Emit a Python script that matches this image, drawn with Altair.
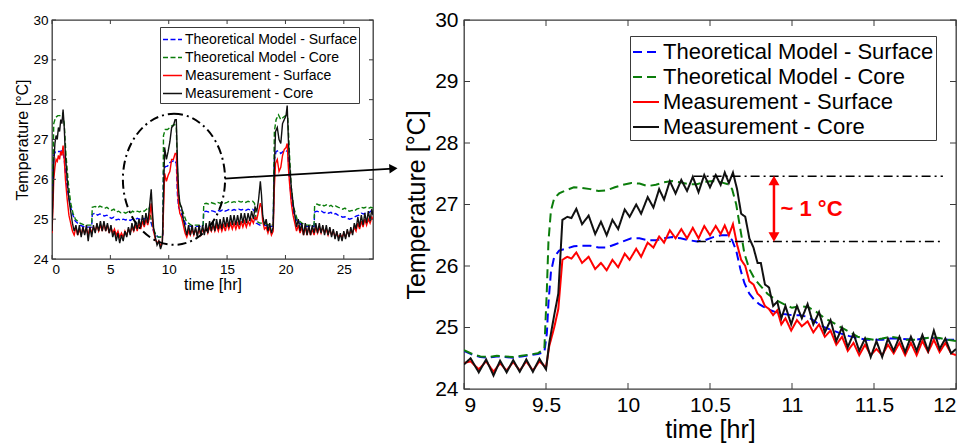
import altair as alt
import pandas as pd

FONT = "Liberation Sans"
FRAME = "#3a3a3a"
SERIES = ["Theoretical Model - Surface", "Theoretical Model - Core",
          "Measurement - Surface", "Measurement - Core"]
COLORS = ["#0000ff", "#0b7d0b", "#ff0000", "#111111"]

# ---------------- right panel (zoom 9-12 hr) ----------------
zt_meas = [
    9.00, 9.04, 9.09, 9.135, 9.18, 9.22, 9.26, 9.30, 9.34, 9.38,
    9.42, 9.46, 9.50, 9.52, 9.55, 9.575, 9.60, 9.63, 9.655, 9.685,
    9.72, 9.76, 9.80, 9.835, 9.87, 9.905, 9.94, 9.98, 10.01, 10.05,
    10.08, 10.12, 10.155, 10.19, 10.22, 10.255, 10.29, 10.325, 10.36, 10.395,
    10.43, 10.465, 10.50, 10.535, 10.565, 10.59, 10.615, 10.64, 10.665, 10.69,
    10.715, 10.74, 10.765, 10.79, 10.81, 10.835, 10.86, 10.885, 10.91, 10.935,
    10.96, 10.995, 11.03, 11.06, 11.095, 11.13, 11.165, 11.20, 11.235, 11.27,
    11.305, 11.34, 11.375, 11.41, 11.445, 11.48, 11.515, 11.55, 11.585, 11.62,
    11.655, 11.69, 11.725, 11.76, 11.795, 11.83, 11.865, 11.90, 11.935, 11.97,
    12.00]
zoom_core_meas = [
    24.40, 24.50, 24.27, 24.48, 24.22, 24.46, 24.27, 24.47, 24.28, 24.48,
    24.28, 24.49, 24.32, 24.75, 25.20, 25.55, 26.75, 26.80, 26.78, 26.93,
    26.68, 26.82, 26.52, 26.72, 26.50, 26.75, 26.60, 26.92, 26.80, 27.00,
    26.85, 27.12, 26.95, 27.25, 27.08, 27.38, 27.18, 27.40, 27.22, 27.45,
    27.20, 27.48, 27.28, 27.48, 27.32, 27.52, 27.35, 27.52, 27.25, 26.85,
    26.80, 26.45, 26.30, 26.05, 26.05, 25.70, 25.65, 25.35, 25.42, 25.15,
    25.35, 25.05, 25.35, 25.15, 25.38, 25.05, 25.25, 24.92, 25.12, 24.78,
    25.00, 24.68, 24.90, 24.62, 24.82, 24.52, 24.78, 24.52, 24.82, 24.62,
    24.85, 24.60, 24.85, 24.62, 24.88, 24.62, 24.95, 24.65, 24.82, 24.58,
    24.65]
zoom_surf_meas = [
    24.42, 24.45, 24.32, 24.45, 24.28, 24.42, 24.30, 24.44, 24.30, 24.45,
    24.30, 24.45, 24.35, 24.70, 25.00, 25.30, 26.10, 26.15, 26.12, 26.22,
    26.05, 26.15, 25.95, 26.05, 25.93, 26.10, 25.98, 26.20, 26.10, 26.28,
    26.15, 26.38, 26.30, 26.48, 26.38, 26.58, 26.45, 26.60, 26.45, 26.62,
    26.45, 26.65, 26.50, 26.65, 26.52, 26.66, 26.50, 26.68, 26.35, 26.10,
    26.00, 25.75, 25.70, 25.55, 25.50, 25.35, 25.30, 25.20, 25.28, 25.05,
    25.15, 24.95, 25.12, 25.02, 25.10, 24.92, 25.05, 24.85, 24.95, 24.72,
    24.85, 24.62, 24.75, 24.55, 24.72, 24.55, 24.65, 24.55, 24.72, 24.58,
    24.75, 24.55, 24.75, 24.55, 24.78, 24.60, 24.80, 24.60, 24.75, 24.58,
    24.55]
zt_model = [
    9.00, 9.05, 9.10, 9.15, 9.20, 9.25, 9.30, 9.35, 9.40, 9.45,
    9.49, 9.505, 9.515, 9.53, 9.55, 9.58, 9.62, 9.67, 9.72, 9.77,
    9.82, 9.87, 9.92, 9.97, 10.02, 10.07, 10.12, 10.17, 10.22, 10.27,
    10.32, 10.37, 10.42, 10.47, 10.52, 10.57, 10.61, 10.635, 10.66, 10.685,
    10.71, 10.74, 10.77, 10.80, 10.85, 10.90, 10.95, 11.00, 11.05, 11.10,
    11.15, 11.20, 11.25, 11.30, 11.35, 11.40, 11.45, 11.50, 11.55, 11.60,
    11.65, 11.70, 11.75, 11.80, 11.85, 11.90, 11.95, 12.00]
zoom_core_model = [
    24.63, 24.57, 24.53, 24.52, 24.54, 24.53, 24.52, 24.54, 24.56, 24.58,
    24.65, 25.60, 26.40, 26.90, 27.10, 27.18, 27.23, 27.28, 27.27, 27.25,
    27.22, 27.23, 27.28, 27.32, 27.35, 27.34, 27.30, 27.32, 27.36, 27.38,
    27.36, 27.33, 27.33, 27.37, 27.38, 27.36, 27.33, 27.25, 27.00, 26.60,
    26.20, 25.95, 25.80, 25.70, 25.55, 25.45, 25.38, 25.32, 25.35, 25.33,
    25.25, 25.15, 25.08, 25.00, 24.93, 24.85, 24.82, 24.80, 24.82, 24.85,
    24.83, 24.80, 24.80, 24.82, 24.84, 24.83, 24.80, 24.78]
zoom_surf_model = [
    24.62, 24.56, 24.52, 24.51, 24.53, 24.52, 24.51, 24.53, 24.55, 24.57,
    24.60, 24.90, 25.40, 25.90, 26.15, 26.25, 26.28, 26.32, 26.33, 26.33,
    26.30, 26.30, 26.35, 26.40, 26.45, 26.45, 26.42, 26.42, 26.45, 26.47,
    26.45, 26.42, 26.40, 26.42, 26.47, 26.50, 26.50, 26.42, 26.25, 25.95,
    25.72, 25.55, 25.45, 25.38, 25.30, 25.25, 25.22, 25.20, 25.20, 25.17,
    25.08, 25.00, 24.95, 24.90, 24.86, 24.83, 24.80, 24.80, 24.80, 24.82,
    24.82, 24.81, 24.80, 24.82, 24.83, 24.82, 24.80, 24.80]

# ---------------- left panel (0-27.5 hr) ----------------
dt_meas = [
    0.00, 0.08, 0.15, 0.25, 0.35, 0.45, 0.55, 0.65, 0.75, 0.85,
    0.95, 1.05, 1.15, 1.30, 1.45, 1.60, 1.75, 1.90, 2.05, 2.20,
    2.35, 2.50, 2.65, 2.80, 2.95, 3.10, 3.25, 3.40, 3.55, 3.70,
    3.85, 4.00, 4.15, 4.30, 4.45, 4.60, 4.75, 4.90, 5.05, 5.20,
    5.35, 5.50, 5.65, 5.80, 5.95, 6.10, 6.25, 6.40, 6.55, 6.70,
    6.85, 7.00, 7.15, 7.30, 7.45, 7.60, 7.75, 7.90, 8.05, 8.20,
    8.35, 8.50, 8.60, 8.70, 8.85, 9.00, 9.15, 9.30, 9.45, 9.55,
    9.65, 9.80, 9.95, 10.10, 10.25, 10.40, 10.55, 10.65, 10.75, 10.85,
    10.95, 11.10, 11.25, 11.40, 11.55, 11.70, 11.85, 12.00, 12.15, 12.30,
    12.45, 12.60, 12.75, 12.90, 13.05, 13.20, 13.35, 13.50, 13.65, 13.80,
    13.95, 14.10, 14.25, 14.40, 14.55, 14.70, 14.85, 15.00, 15.15, 15.30,
    15.45, 15.60, 15.75, 15.90, 16.05, 16.20, 16.35, 16.50, 16.65, 16.80,
    16.95, 17.10, 17.25, 17.40, 17.55, 17.70, 17.85, 17.95, 18.05, 18.20,
    18.35, 18.50, 18.65, 18.80, 18.95, 19.05, 19.15, 19.30, 19.45, 19.60,
    19.75, 19.90, 20.05, 20.15, 20.25, 20.35, 20.50, 20.65, 20.80, 20.95,
    21.10, 21.25, 21.40, 21.55, 21.70, 21.85, 22.00, 22.15, 22.30, 22.45,
    22.60, 22.75, 22.90, 23.05, 23.20, 23.35, 23.50, 23.65, 23.80, 23.95,
    24.10, 24.25, 24.40, 24.55, 24.70, 24.85, 25.00, 25.15, 25.30, 25.45,
    25.60, 25.75, 25.90, 26.05, 26.20, 26.35, 26.50, 26.65, 26.80, 26.95,
    27.10, 27.25, 27.40, 27.50]
day_core_meas = [
    24.70, 25.60, 26.40, 26.90, 27.10, 27.00, 27.30, 27.20, 27.50, 27.40,
    27.75, 27.30, 26.60, 26.00, 25.50, 25.20, 24.90, 24.70, 24.85, 24.60,
    24.85, 24.55, 24.80, 24.60, 24.85, 24.45, 24.80, 24.55, 24.85, 24.65,
    24.90, 24.70, 24.95, 24.70, 24.95, 24.70, 24.90, 24.65, 24.85, 24.55,
    24.70, 24.45, 24.65, 24.40, 24.60, 24.45, 24.70, 24.55, 24.80, 24.60,
    24.90, 24.70, 24.95, 24.75, 25.00, 24.80, 25.10, 24.85, 25.15, 24.90,
    25.30, 25.75, 25.20, 24.80, 24.55, 24.35, 24.45, 24.25, 24.40, 25.50,
    26.80, 26.50, 26.70, 26.95, 27.30, 27.35, 27.50, 27.50, 26.40, 25.70,
    25.40, 25.30, 25.00, 24.80, 24.60, 24.85, 24.60, 24.85, 24.60, 24.80,
    24.55, 24.85, 24.60, 24.85, 24.60, 24.90, 24.65, 24.95, 24.70, 24.95,
    24.70, 25.00, 24.75, 25.00, 24.75, 25.05, 24.80, 25.05, 24.80, 25.10,
    24.85, 25.10, 24.85, 25.10, 24.85, 25.15, 24.90, 25.15, 24.90, 25.15,
    24.95, 25.20, 25.00, 25.30, 25.20, 25.50, 25.95, 25.60, 25.10, 24.85,
    25.00, 24.70, 24.90, 24.65, 24.80, 26.30, 27.20, 27.30, 27.00, 26.90,
    27.40, 27.50, 27.60, 27.85, 27.00, 26.40, 25.80, 25.40, 25.10, 24.80,
    25.00, 24.70, 24.90, 24.60, 24.90, 24.60, 24.85, 24.60, 24.85, 24.65,
    24.90, 24.65, 24.90, 24.65, 24.85, 24.60, 24.85, 24.60, 24.80, 24.55,
    24.75, 24.50, 24.70, 24.45, 24.65, 24.45, 24.70, 24.50, 24.75, 24.55,
    24.80, 24.60, 24.90, 24.75, 25.05, 24.80, 25.10, 24.85, 25.15, 24.90,
    25.20, 24.95, 25.25, 25.10]
day_surf_meas = [
    24.65, 25.30, 26.00, 26.30, 26.50, 26.45, 26.60, 26.50, 26.70, 26.60,
    26.85, 26.50, 26.00, 25.50, 25.10, 24.90, 24.70, 24.60, 24.80, 24.60,
    24.75, 24.60, 24.80, 24.65, 24.75, 24.60, 24.80, 24.65, 24.80, 24.70,
    24.85, 24.70, 24.85, 24.70, 24.90, 24.70, 24.85, 24.65, 24.80, 24.65,
    24.75, 24.60, 24.70, 24.55, 24.65, 24.55, 24.70, 24.60, 24.75, 24.65,
    24.80, 24.70, 24.85, 24.70, 24.90, 24.75, 24.95, 24.80, 25.00, 24.85,
    25.05, 25.40, 25.00, 24.70, 24.50, 24.40, 24.45, 24.32, 24.40, 25.20,
    26.15, 25.95, 26.10, 26.20, 26.50, 26.50, 26.65, 26.65, 25.80, 25.35,
    25.15, 25.05, 24.85, 24.65, 24.55, 24.70, 24.60, 24.75, 24.60, 24.75,
    24.60, 24.75, 24.60, 24.75, 24.65, 24.80, 24.65, 24.80, 24.70, 24.85,
    24.70, 24.85, 24.70, 24.85, 24.70, 24.85, 24.70, 24.90, 24.75, 24.90,
    24.75, 24.90, 24.75, 24.90, 24.75, 24.95, 24.80, 24.95, 24.80, 24.95,
    24.85, 25.00, 24.90, 25.05, 25.00, 25.20, 25.40, 25.30, 24.95, 24.75,
    24.80, 24.65, 24.80, 24.60, 24.70, 25.80, 26.40, 26.50, 26.20, 26.30,
    26.60, 26.75, 26.80, 26.90, 26.30, 25.90, 25.40, 25.10, 24.90, 24.70,
    24.85, 24.65, 24.80, 24.60, 24.80, 24.60, 24.80, 24.60, 24.75, 24.60,
    24.80, 24.65, 24.80, 24.65, 24.80, 24.65, 24.75, 24.60, 24.75, 24.60,
    24.70, 24.55, 24.65, 24.55, 24.60, 24.55, 24.65, 24.55, 24.70, 24.60,
    24.70, 24.65, 24.80, 24.70, 24.90, 24.75, 24.95, 24.80, 25.00, 24.85,
    25.00, 24.90, 25.05, 25.00]
dt_model = [
    0.00, 0.05, 0.15, 0.30, 0.50, 0.70, 0.90, 1.05, 1.20, 1.40,
    1.60, 1.80, 2.00, 2.40, 2.80, 3.20, 3.40, 3.45, 3.70, 3.90,
    4.10, 4.30, 4.50, 4.70, 4.90, 5.10, 5.30, 5.50, 5.70, 5.90,
    6.10, 6.30, 6.50, 6.70, 6.90, 7.10, 7.30, 7.50, 7.70, 7.90,
    8.10, 8.30, 8.50, 8.70, 8.90, 9.10, 9.30, 9.50, 9.55, 9.70,
    9.90, 10.10, 10.30, 10.50, 10.65, 10.75, 10.85, 11.00, 11.20, 11.50,
    11.90, 12.30, 12.70, 12.95, 13.00, 13.20, 13.40, 13.60, 13.80, 14.00,
    14.20, 14.40, 14.60, 14.80, 15.00, 15.20, 15.40, 15.60, 15.80, 16.00,
    16.20, 16.40, 16.60, 16.80, 17.00, 17.20, 17.35, 17.50, 17.80, 18.20,
    18.60, 18.95, 19.05, 19.20, 19.40, 19.60, 19.80, 20.00, 20.20, 20.35,
    20.50, 20.70, 21.00, 21.40, 21.80, 22.20, 22.45, 22.50, 22.70, 22.90,
    23.10, 23.30, 23.50, 23.70, 23.90, 24.10, 24.30, 24.50, 24.70, 24.90,
    25.10, 25.30, 25.50, 25.70, 25.90, 26.10, 26.30, 26.50, 26.70, 26.90,
    27.10, 27.30, 27.50]
day_core_model = [
    24.75, 25.80, 27.40, 27.55, 27.60, 27.60, 27.65, 27.40, 26.60, 25.90,
    25.40, 25.15, 25.00, 24.90, 24.85, 24.85, 24.85, 25.30, 25.32, 25.28,
    25.33, 25.30, 25.27, 25.30, 25.25, 25.22, 25.25, 25.18, 25.20, 25.16,
    25.18, 25.15, 25.18, 25.15, 25.20, 25.17, 25.20, 25.18, 25.22, 25.20,
    25.25, 25.30, 25.00, 24.75, 24.60, 24.55, 24.55, 24.60, 27.10, 27.25,
    27.25, 27.30, 27.35, 27.38, 27.30, 26.20, 25.60, 25.30, 25.20, 24.95,
    24.85, 24.85, 24.85, 24.85, 25.38, 25.40, 25.38, 25.42, 25.40, 25.38,
    25.42, 25.40, 25.43, 25.40, 25.42, 25.45, 25.42, 25.44, 25.42, 25.45,
    25.43, 25.45, 25.42, 25.45, 25.43, 25.45, 25.40, 24.95, 24.90, 24.90,
    24.85, 24.85, 27.20, 27.50, 27.62, 27.50, 27.55, 27.60, 27.55, 26.60,
    25.80, 25.30, 25.00, 24.90, 24.85, 24.85, 24.85, 25.35, 25.38, 25.35,
    25.38, 25.33, 25.36, 25.32, 25.35, 25.30, 25.33, 25.30, 25.28, 25.25,
    25.28, 25.22, 25.20, 25.22, 25.20, 25.25, 25.27, 25.30, 25.28, 25.30,
    25.27, 25.30, 25.28]
day_surf_model = [
    24.70, 25.50, 26.60, 26.70, 26.70, 26.70, 26.72, 26.50, 26.00, 25.60,
    25.30, 25.10, 24.95, 24.85, 24.80, 24.80, 24.80, 25.12, 25.15, 25.10,
    25.13, 25.10, 25.08, 25.10, 25.05, 25.02, 25.05, 24.98, 25.00, 24.97,
    25.00, 24.98, 25.00, 24.97, 25.00, 24.98, 25.02, 25.00, 25.03, 25.00,
    25.05, 25.10, 24.90, 24.70, 24.60, 24.55, 24.55, 24.60, 26.20, 26.32,
    26.33, 26.42, 26.45, 26.48, 26.40, 25.60, 25.30, 25.20, 25.05, 24.85,
    24.82, 24.82, 24.82, 24.82, 25.18, 25.20, 25.18, 25.22, 25.20, 25.18,
    25.22, 25.20, 25.23, 25.20, 25.22, 25.25, 25.22, 25.24, 25.22, 25.25,
    25.23, 25.25, 25.22, 25.25, 25.23, 25.25, 25.20, 24.90, 24.85, 24.85,
    24.82, 24.82, 26.50, 26.70, 26.72, 26.65, 26.70, 26.72, 26.70, 26.00,
    25.50, 25.15, 24.95, 24.85, 24.82, 24.82, 24.82, 25.18, 25.20, 25.18,
    25.20, 25.16, 25.18, 25.15, 25.17, 25.12, 25.14, 25.10, 25.08, 25.05,
    25.06, 25.02, 25.00, 25.02, 25.05, 25.08, 25.10, 25.15, 25.13, 25.17,
    25.15, 25.20, 25.20]

# ticks
day_xticks = [0, 5, 10, 15, 20, 25]
zoom_xticks = [9, 9.5, 10, 10.5, 11, 11.5, 12]
temp_ticks = [24, 25, 26, 27, 28, 29, 30]

# annotations
ellipse_center = {"t": [10.45], "T": [26.0]}
link_arrow = {"t": [14.8], "t2": [29.2], "T": [26.02], "T2": [26.27]}
link_head = {"t": [29.25], "T": [26.27]}
ref_lines = {"t": [10.40, 10.42], "t2": [11.92, 11.92], "T": [27.46, 26.40]}
delta_x = 10.89
delta_lo, delta_hi = 26.40, 27.46
delta_label = {"t": [10.93], "T": [26.92], "label": ["~ 1 °C"]}

ELLIPSE = "M0,-1A0.78,1,0,1,1,0,1A0.78,1,0,1,1,0,-1Z"


def frames(tm, sm, cm, tr, sr, cr):
    return [
        pd.DataFrame({"t": tm, "T": sm, "series": SERIES[0]}),
        pd.DataFrame({"t": tm, "T": cm, "series": SERIES[1]}),
        pd.DataFrame({"t": tr, "T": sr, "series": SERIES[2]}),
        pd.DataFrame({"t": tr, "T": cr, "series": SERIES[3]}),
    ]


def panel(dfs, W, H, xdom, xticks, lw, dash, lab, tit, leg, tlen,
          lpx, tpx, lpy, tpy):
    xs = alt.Scale(domain=xdom, nice=False, zero=False)
    ys = alt.Scale(domain=[24, 30], nice=False, zero=False)
    common = dict(ticks=False, domain=False, grid=False, format="~g",
                  labelFont=FONT, labelFontSize=lab, labelColor="black",
                  titleFont=FONT, titleFontSize=tit, titleFontWeight="normal",
                  titleColor="black")
    xaxis = alt.Axis(title="time [hr]", values=xticks, labelPadding=lpx,
                     titlePadding=tpx, **common)
    yaxis = alt.Axis(title="Temperature [°C]", values=temp_ticks,
                     labelPadding=lpy, titlePadding=tpy, **common)

    def X(f):
        return alt.X(f, type="quantitative", scale=xs, axis=xaxis)

    def Y(f):
        return alt.Y(f, type="quantitative", scale=ys, axis=yaxis)

    legend = alt.Legend(**leg)
    color = alt.Color("series:N", scale=alt.Scale(domain=SERIES, range=COLORS),
                      legend=legend)
    sdash = alt.StrokeDash("series:N", scale=alt.Scale(domain=SERIES, range=dash),
                           legend=legend)
    layers = []
    for df in dfs:
        layers.append(alt.Chart(df).mark_line(strokeWidth=lw, clip=True).encode(
            x=X("t"), y=Y("T"), color=color, strokeDash=sdash))
    xt = pd.DataFrame({"t": xticks})
    yt = pd.DataFrame({"T": temp_ticks})
    tk = dict(color=FRAME, strokeWidth=1)
    layers += [
        alt.Chart(xt).mark_rule(**tk).encode(x=X("t"), y=alt.value(H), y2=alt.value(H - tlen)),
        alt.Chart(xt).mark_rule(**tk).encode(x=X("t"), y=alt.value(0), y2=alt.value(tlen)),
        alt.Chart(yt).mark_rule(**tk).encode(y=Y("T"), x=alt.value(0), x2=alt.value(tlen)),
        alt.Chart(yt).mark_rule(**tk).encode(y=Y("T"), x=alt.value(W), x2=alt.value(W - tlen)),
    ]
    return layers, X, Y


# ---- left ----
LW, LH = 321, 239
left_layers, LX, LY = panel(
    frames(dt_model, day_surf_model, day_core_model, dt_meas, day_surf_meas, day_core_meas),
    LW, LH, [0, 27.5], day_xticks, 1.4, [[5, 2.5], [5, 2.5], [1, 0], [1, 0]],
    13.5, 16,
    dict(orient="none", legendX=108, legendY=7, title=None, labelFont=FONT,
         labelFontSize=14, labelColor="black", symbolType="stroke", symbolSize=361,
         symbolStrokeWidth=1.3, strokeColor=FRAME, fillColor="white", padding=2,
         labelOffset=2, rowPadding=0, labelLimit=500),
    4, 3, 1, 4, 2)
left_layers += [
    alt.Chart(pd.DataFrame(ellipse_center)).mark_point(
        shape=ELLIPSE, size=17161, filled=False, color="black", opacity=1,
        strokeWidth=2, strokeDash=[9, 4, 2, 4], clip=False).encode(x=LX("t"), y=LY("T")),
    alt.Chart(pd.DataFrame(link_arrow)).mark_rule(
        color="black", strokeWidth=1.8, clip=False).encode(
        x=LX("t"), x2="t2", y=LY("T"), y2="T2"),
    alt.Chart(pd.DataFrame(link_head)).mark_point(
        shape="triangle-right", size=90, filled=True, color="black", opacity=1,
        angle=357, clip=False).encode(x=LX("t"), y=LY("T")),
]
left = alt.layer(*left_layers).properties(width=LW, height=LH)

# ---- right ----
RW, RH = 492, 369
right_layers, RX, RY = panel(
    frames(zt_model, zoom_surf_model, zoom_core_model, zt_meas, zoom_surf_meas, zoom_core_meas),
    RW, RH, [9, 12], zoom_xticks, 2, [[9, 5], [9, 5], [1, 0], [1, 0]],
    21, 25,
    dict(orient="none", legendX=166, legendY=16, title=None, labelFont=FONT,
         labelFontSize=22, labelColor="black", symbolType="stroke", symbolSize=676,
         symbolStrokeWidth=2, strokeColor=FRAME, fillColor="white", padding=2,
         labelOffset=3, rowPadding=0, labelLimit=600),
    6, 5, 2, 6, 5)
arrow_df = pd.DataFrame({"t": [delta_x], "T": [delta_lo + 0.1], "T2": [delta_hi - 0.1]})
right_layers += [
    alt.Chart(pd.DataFrame(ref_lines)).mark_rule(
        color="black", strokeWidth=1.5, strokeDash=[9, 4, 2, 4]).encode(
        x=RX("t"), x2="t2", y=RY("T")),
    alt.Chart(arrow_df).mark_rule(color="#ff0000", strokeWidth=2.5).encode(
        x=RX("t"), y=RY("T"), y2="T2"),
    alt.Chart(pd.DataFrame({"t": [delta_x], "T": [delta_hi - 0.07]})).mark_point(
        shape="triangle-up", size=120, filled=True, color="#ff0000", opacity=1).encode(
        x=RX("t"), y=RY("T")),
    alt.Chart(pd.DataFrame({"t": [delta_x], "T": [delta_lo + 0.07]})).mark_point(
        shape="triangle-down", size=120, filled=True, color="#ff0000", opacity=1).encode(
        x=RX("t"), y=RY("T")),
    alt.Chart(pd.DataFrame(delta_label)).mark_text(
        align="left", baseline="middle", font=FONT, fontSize=22, fontWeight="bold",
        color="#ff0000").encode(x=RX("t"), y=RY("T"), text="label:N"),
]
right = alt.layer(*right_layers).properties(width=RW, height=RH)

chart = alt.hconcat(left, right, spacing=91, bounds="flush").resolve_scale(
    x="independent", y="independent", color="independent", strokeDash="independent"
).resolve_legend(color="independent", strokeDash="independent").properties(
    padding={"left": 6, "top": 0, "right": 0, "bottom": 0}
).configure_view(stroke=FRAME, strokeWidth=1.3)

chart.save("out.html", embed_options={"renderer": "svg", "actions": False})
